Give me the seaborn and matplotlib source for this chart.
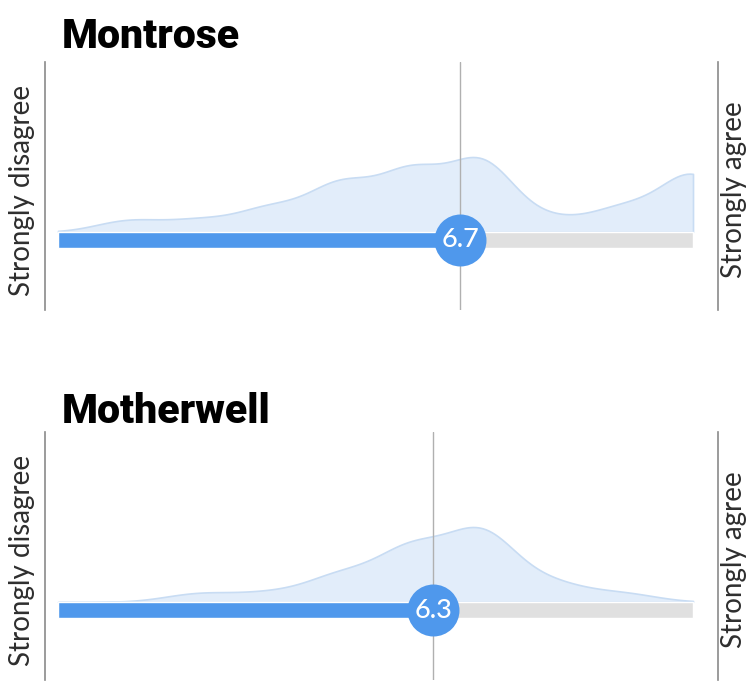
import numpy as np
import matplotlib
matplotlib.use('Agg')
import matplotlib.pyplot as plt
import seaborn as sns

sns.set_style('white')
plt.rcParams['font.family'] = ['Lato', 'DejaVu Sans']

# responses on a 1-10 scale, number of people per score
scores = [1, 2, 3, 4, 5, 6, 7, 8, 9, 10]
montrose_counts = [0, 1, 1, 2, 4, 5, 6, 1, 2, 5]
motherwell_counts = [0, 0, 1, 1, 3, 6, 8, 2, 1, 0]

panels = [('Montrose', montrose_counts), ('Motherwell', motherwell_counts)]
left_label = 'Strongly disagree'
right_label = 'Strongly agree'

BLUE = '#4f98ec'
GREY_BAR = '#e0e0e0'
FILL = '#e2edfa'
EDGE = '#c8dcf3'

W, H = 747, 686
fig = plt.figure(figsize=(W / 100, H / 100), dpi=100)

panel_top = [62, 432]      # pixel y of the top of the vertical rules
panel_h = 248
title_base = [48, 423]

# x pixels: rules at 45 / 718, scale 1..10 spans 58..693
ppu = (693 - 58) / 9
xlim = (1 - 13 / ppu, 10 + 25 / ppu)

for i, (name, counts) in enumerate(panels):
    top = panel_top[i]
    ax = fig.add_axes([45 / W, 1 - (top + panel_h) / H, 673 / W, panel_h / H])
    counts = np.array(counts, dtype=float)
    vals = np.array(scores, dtype=float)
    mean = (vals * counts).sum() / counts.sum()
    std = np.sqrt((counts * (vals - mean) ** 2).sum() / counts.sum())

    sns.kdeplot(x=vals, weights=counts, bw_method=0.43 / std, clip=(1, 10), cut=0,
                fill=True, color=FILL, edgecolor=EDGE, linewidth=1.2, alpha=1,
                ax=ax, zorder=1)
    ymax = max(p.vertices[:, 1].max() for p in ax.collections[-1].get_paths())
    u = ymax / 75.0  # data units per pixel
    ax.set_ylim(-78 * u, 170 * u)
    ax.set_xlim(*xlim)

    ax.axvline(mean, color='#b0b0b0', lw=1, zorder=2)
    ax.barh(-8 * u, 9, left=1, height=16 * u, color=GREY_BAR, zorder=3)
    ax.barh(-8 * u, mean - 1, left=1, height=16 * u, color=BLUE, zorder=4)
    ax.scatter([mean], [-8 * u], s=1400, color=BLUE, zorder=5, linewidths=0)
    ax.text(mean, -8 * u, f'{mean:.1f}', color='white', fontsize=19.5,
            fontweight='medium', ha='center', va='center', zorder=6)

    ax.set_xlabel('')
    ax.set_ylabel('')
    ax.set_xticks([])
    ax.set_yticks([])
    for s in ['top', 'bottom']:
        ax.spines[s].set_visible(False)
    for s in ['left', 'right']:
        ax.spines[s].set_color('#8a8a8a')
        ax.spines[s].set_linewidth(1.2)
    ax.patch.set_alpha(0)

    fig.text(62 / W, 1 - title_base[i] / H, name, fontsize=29.5, fontweight='black',
             color='black', family=['Roboto', 'DejaVu Sans'], ha='left', va='baseline')
    cy = top + 128
    fig.text(22 / W, 1 - cy / H, left_label, rotation=90, fontsize=20,
             color='#2e2e2e', ha='center', va='center')
    fig.text(734 / W, 1 - cy / H, right_label, rotation=90, fontsize=20,
             color='#2e2e2e', ha='center', va='center')

fig.savefig('out.png', dpi=100)
